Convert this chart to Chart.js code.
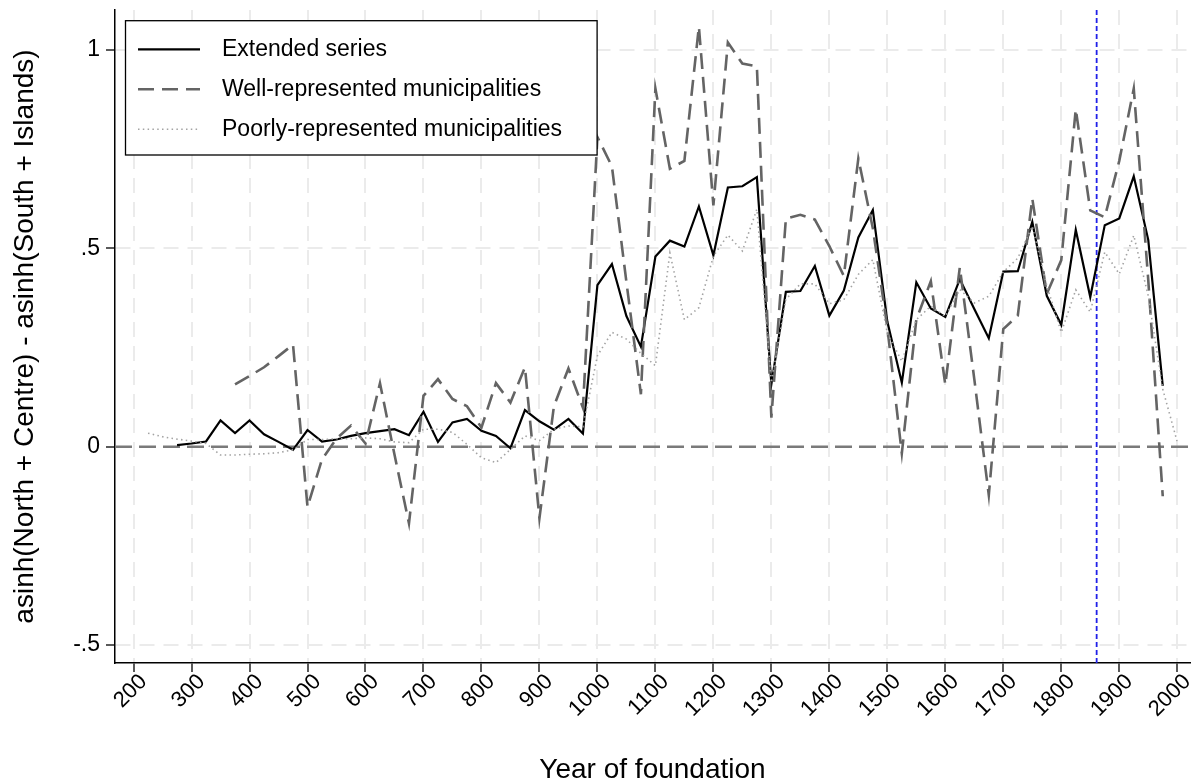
<!DOCTYPE html>
<html>
<head>
<meta charset="utf-8">
<script src="https://cdn.jsdelivr.net/npm/chart.js@4.4.0/dist/chart.umd.min.js"></script>
<style>
  html, body { margin: 0; padding: 0; background: #fff; }
  #wrap { width: 1191px; height: 784px; }
</style>
</head>
<body>
<div id="wrap"><canvas id="chart" width="1191" height="784"></canvas></div>
<script>
// foundation years, 25-year bins
const years = [225, 250, 275, 300, 325, 350, 375, 400, 425, 450, 475, 500, 525, 550, 575, 600,
  625, 650, 675, 700, 725, 750, 775, 800, 825, 850, 875, 900, 925, 950, 975, 1000,
  1025, 1050, 1075, 1100, 1125, 1150, 1175, 1200, 1225, 1250, 1275, 1300, 1325, 1350, 1375, 1400,
  1425, 1450, 1475, 1500, 1525, 1550, 1575, 1600, 1625, 1650, 1675, 1700, 1725, 1750, 1775, 1800,
  1825, 1850, 1875, 1900, 1925, 1950, 1975, 2000];

const extended = [null, null, 0.004, 0.008, 0.013, 0.066, 0.034, 0.066, 0.031, 0.012, -0.008, 0.042, 0.013, 0.018, 0.027, 0.034,
  0.039, 0.044, 0.029, 0.088, 0.012, 0.061, 0.070, 0.040, 0.027, -0.004, 0.092, 0.064, 0.043, 0.070, 0.033, 0.407,
  0.460, 0.329, 0.252, 0.479, 0.519, 0.504, 0.605, 0.482, 0.653, 0.656, 0.679, 0.157, 0.390, 0.392, 0.455, 0.330,
  0.393, 0.527, 0.596, 0.315, 0.161, 0.414, 0.348, 0.327, 0.422, 0.347, 0.273, 0.441, 0.442, 0.566, 0.380, 0.307,
  0.546, 0.377, 0.558, 0.575, 0.681, 0.521, 0.153, null];

const wellRep = [null, null, null, null, null, null, 0.157, 0.178, 0.200, 0.228, 0.257, -0.152, -0.032, 0.020, 0.053, 0.008,
  0.160, -0.020, -0.193, 0.128, 0.170, 0.120, 0.102, 0.048, 0.160, 0.111, 0.200, -0.180, 0.102, 0.197, 0.098, 0.780,
  0.706, 0.415, 0.132, 0.902, 0.700, 0.720, 1.058, 0.608, 1.018, 0.965, 0.958, 0.073, 0.574, 0.584, 0.572, 0.505,
  0.430, 0.726, 0.550, 0.300, -0.017, 0.320, 0.417, 0.156, 0.452, 0.170, -0.122, 0.296, 0.330, 0.625, 0.385, 0.470,
  0.850, 0.595, 0.578, 0.720, 0.902, 0.420, -0.125, null];

const poorlyRep = [0.034, 0.025, 0.019, 0.014, 0.008, -0.021, -0.021, -0.019, -0.018, -0.015, -0.008, 0.018, 0.018, 0.020, 0.020, 0.022,
  0.020, 0.012, 0.010, 0.044, 0.044, 0.036, 0.006, -0.028, -0.040, -0.007, 0.027, 0.015, 0.044, 0.052, 0.050, 0.229,
  0.288, 0.271, 0.235, 0.204, 0.488, 0.320, 0.350, 0.480, 0.533, 0.493, 0.598, 0.161, 0.371, 0.410, 0.410, 0.360,
  0.370, 0.434, 0.471, 0.286, 0.215, 0.320, 0.354, 0.328, 0.396, 0.362, 0.379, 0.440, 0.475, 0.555, 0.406, 0.288,
  0.395, 0.339, 0.490, 0.435, 0.532, 0.380, 0.145, 0.012];

const seriesNames = ['Extended series', 'Well-represented municipalities', 'Poorly-represented municipalities'];
const xTicks = [200, 300, 400, 500, 600, 700, 800, 900, 1000, 1100, 1200, 1300, 1400, 1500, 1600, 1700, 1800, 1900, 2000];
const yTicks = [-0.5, 0, 0.5, 1];
const yTickLabels = ['-.5', '0', '.5', '1'];
const unificationYear = 1861;
const baseline = 0;

const FONT = '"Liberation Sans", Arial, Helvetica, sans-serif';

const toPoints = vals => years.map((yr, i) => ({ x: yr, y: vals[i] }));

const lineStyles = [
  { color: '#000000', width: 2.2, dash: [] },
  { color: '#646464', width: 2.6, dash: [16, 8] },
  { color: '#a3a3a3', width: 1.6, dash: [1.5, 3.3] }
];

// reference lines under the data, legend box over it
const overlays = {
  id: 'overlays',
  beforeDatasetsDraw(chart) {
    const { ctx, chartArea: a, scales: { x, y } } = chart;
    ctx.save();
    const y0 = y.getPixelForValue(baseline);
    ctx.strokeStyle = '#7a7a7a';
    ctx.lineWidth = 2.5;
    ctx.setLineDash([17, 7]);
    ctx.beginPath();
    ctx.moveTo(a.left, y0);
    ctx.lineTo(a.right, y0);
    ctx.stroke();

    const xv = x.getPixelForValue(unificationYear);
    ctx.strokeStyle = '#2020e8';
    ctx.lineWidth = 1.8;
    ctx.setLineDash([5, 3]);
    ctx.beginPath();
    ctx.moveTo(xv, a.top);
    ctx.lineTo(xv, a.bottom);
    ctx.stroke();
    ctx.restore();
  },
  afterDatasetsDraw(chart) {
    const { ctx, chartArea: a } = chart;
    const bx = a.left + 10.5, by = a.top + 10.7, bw = 471.6, bh = 134.3;
    ctx.save();
    ctx.fillStyle = '#ffffff';
    ctx.fillRect(bx, by, bw, bh);
    ctx.strokeStyle = '#000000';
    ctx.lineWidth = 1.3;
    ctx.setLineDash([]);
    ctx.strokeRect(bx, by, bw, bh);
    ctx.font = '23px ' + FONT;
    ctx.textBaseline = 'middle';
    ctx.fillStyle = '#000000';
    seriesNames.forEach((name, i) => {
      const ry = by + 28.6 + i * 40;
      const st = lineStyles[i];
      ctx.strokeStyle = st.color;
      ctx.lineWidth = st.width;
      ctx.setLineDash(st.dash);
      ctx.beginPath();
      ctx.moveTo(bx + 12.5, ry);
      ctx.lineTo(bx + 74.5, ry);
      ctx.stroke();
      ctx.fillText(name, bx + 96.5, ry);
    });
    ctx.restore();
  }
};

const datasets = [extended, wellRep, poorlyRep].map((vals, i) => ({
  label: seriesNames[i],
  data: toPoints(vals),
  borderColor: lineStyles[i].color,
  borderWidth: lineStyles[i].width,
  borderDash: lineStyles[i].dash,
  pointRadius: 0,
  tension: 0,
  fill: false,
  order: 3 - i
}));

window.onload = () => {
  const ctx = document.getElementById('chart').getContext('2d');
  new Chart(ctx, {
    type: 'line',
    data: { datasets: datasets },
    options: {
      responsive: false,
      animation: false,
      devicePixelRatio: 1,
      layout: { padding: { top: 10, right: 1, left: 0, bottom: 0 } },
      plugins: {
        legend: { display: false },
        tooltip: { enabled: false }
      },
      scales: {
        x: {
          type: 'linear',
          min: 168,
          max: 2022,
          afterBuildTicks: s => { s.ticks = xTicks.map(v => ({ value: v })); },
          afterFit: s => { s.height = 121; s.paddingLeft = 0; s.paddingRight = 0; },
          ticks: {
            autoSkip: false,
            maxRotation: 45,
            minRotation: 45,
            padding: -3,
            labelOffset: 10,
            color: '#000',
            font: { family: FONT, size: 22 },
            callback: v => String(v)
          },
          grid: {
            color: '#ebebeb',
            lineWidth: 2,
            tickLength: 9,
            tickColor: '#000',
            tickWidth: 1.3
          },
          border: { display: true, color: '#000', width: 1.5, dash: [15, 9] },
          title: {
            display: true,
            text: 'Year of foundation',
            color: '#000',
            font: { family: FONT, size: 28, lineHeight: 1 },
            padding: { top: 0, bottom: 0 }
          }
        },
        y: {
          type: 'linear',
          min: -0.545,
          max: 1.1,
          afterBuildTicks: s => { s.ticks = yTicks.map(v => ({ value: v })); },
          afterFit: s => { s.width = 115; s.paddingTop = 0; s.paddingBottom = 0; },
          ticks: {
            padding: 6,
            color: '#000',
            font: { family: FONT, size: 23 },
            callback: (v, i) => yTickLabels[i]
          },
          grid: {
            color: '#ebebeb',
            lineWidth: 2,
            tickLength: 9,
            tickColor: '#000',
            tickWidth: 1.3
          },
          border: { display: true, color: '#000', width: 1.5, dash: [15, 9] },
          title: {
            display: true,
            text: 'asinh(North + Centre) - asinh(South + Islands)',
            color: '#000',
            font: { family: FONT, size: 28, lineHeight: 1 },
            padding: { top: 11 }
          }
        }
      }
    },
    plugins: [overlays]
  });
};
</script>
</body>
</html>
